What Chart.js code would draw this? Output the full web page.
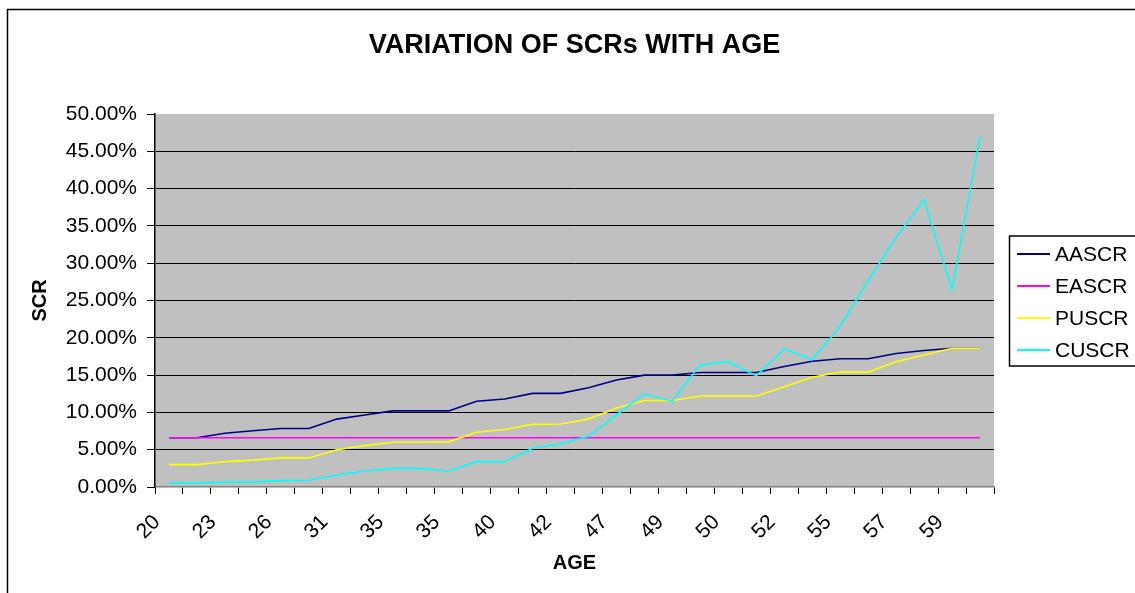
<!DOCTYPE html>
<html>
<head>
<meta charset="utf-8">
<title>VARIATION OF SCRs WITH AGE</title>
<script src="https://cdn.jsdelivr.net/npm/chart.js@4.4.1/dist/chart.umd.min.js"></script>
<style>
  html, body { margin: 0; padding: 0; background: #fff; }
  canvas { display: block; }
</style>
</head>
<body>
<canvas id="myChart" width="1135" height="593"></canvas>
<script>
// ages along the x axis (only every other one is labelled)
var ages = ['20','22','23','25','26','28','31','33','35','35','35','38','40','41','42',
            '45','47','48','49','49','50','51','52','53','55','56','57','58','59','60'];

// values in percent
var aascr = [6.6,6.6,7.2,7.55,7.85,7.85,9.1,9.65,10.2,10.2,10.2,11.5,11.8,12.55,12.55,
             13.3,14.35,15.0,15.0,15.35,15.35,15.35,16.15,16.85,17.2,17.2,17.9,18.3,18.6,18.6];
var eascr = [6.6,6.6,6.6,6.6,6.6,6.6,6.6,6.6,6.6,6.6,6.6,6.6,6.6,6.6,6.6,
             6.6,6.6,6.6,6.6,6.6,6.6,6.6,6.6,6.6,6.6,6.6,6.6,6.6,6.6,6.6];
var puscr = [3.0,3.0,3.4,3.6,3.9,3.9,5.0,5.55,6.0,6.0,6.05,7.35,7.7,8.4,8.45,
             9.1,10.6,11.6,11.6,12.2,12.2,12.2,13.45,14.7,15.4,15.4,16.8,17.7,18.6,18.6];
var cuscr = [0.55,0.55,0.65,0.65,0.85,0.9,1.6,2.15,2.5,2.5,2.15,3.4,3.4,5.2,5.8,
             6.8,9.65,12.5,11.5,16.4,16.8,14.9,18.5,17.05,21.55,27.65,33.45,38.5,26.45,47.0];

var seriesNames = ['AASCR','EASCR','PUSCR','CUSCR'];
var seriesColors = ['#000080','#FF00FF','#FFFF00','#00FFFF'];

var FONT = "Arial, 'Liberation Sans', sans-serif";

// grey plot area + outer frame of the chart
var plotBg = {
    id: 'plotBg',
    beforeDraw: function(chart) {
        var c = chart.ctx;
        var a = chart.chartArea;
        c.save();
        c.fillStyle = '#C0C0C0';
        c.fillRect(a.left, a.top, a.right - a.left, a.bottom - a.top);
        c.strokeStyle = '#000';
        c.lineWidth = 1.5;
        c.strokeRect(7.5, 9.5, chart.width + 20, chart.height + 20);
        c.restore();
    }
};

// excel style legend in a box on the right
var boxLegend = {
    id: 'boxLegend',
    afterDraw: function(chart) {
        var c = chart.ctx;
        c.save();
        c.strokeStyle = '#000';
        c.lineWidth = 1.5;
        c.strokeRect(1009.5, 236, 200, 130);
        c.font = '21px ' + FONT;
        c.textBaseline = 'middle';
        c.textAlign = 'left';
        chart.data.datasets.forEach(function(ds, i) {
            var y = 254 + i * 32;
            c.strokeStyle = ds.borderColor;
            c.lineWidth = 2;
            c.beginPath();
            c.moveTo(1017, y);
            c.lineTo(1050, y);
            c.stroke();
            c.fillStyle = '#000';
            c.fillText(ds.label, 1055, y + 1);
        });
        c.restore();
    }
};

function createChart(ctx) {
    var sets = [aascr, eascr, puscr, cuscr].map(function(d, i) {
        return {
            label: seriesNames[i],
            data: d,
            borderColor: seriesColors[i],
            backgroundColor: seriesColors[i],
            borderWidth: 1.6,
            pointRadius: 0,
            tension: 0,
            fill: false,
            order: 4 - i
        };
    });

    var myChart = new Chart(ctx, {
        type: 'line',
        data: {
            labels: ages,
            datasets: sets
        },
        options: {
            responsive: false,
            animation: false,
            layout: {
                padding: { left: 0, right: 141, top: 0, bottom: 0 }
            },
            plugins: {
                legend: { display: false },
                tooltip: { enabled: false },
                title: {
                    display: true,
                    text: 'VARIATION OF SCRs WITH AGE',
                    color: '#000',
                    fullSize: false,
                    font: { family: FONT, size: 27, weight: 'bold', lineHeight: 1.2 },
                    padding: { top: 29.6, bottom: 52 }
                }
            },
            scales: {
                x: {
                    offset: true,
                    grid: {
                        offset: true,
                        drawOnChartArea: false,
                        drawTicks: true,
                        tickLength: 7,
                        tickColor: '#000'
                    },
                    border: { color: '#808080', width: 1.5 },
                    ticks: {
                        autoSkip: false,
                        minRotation: 45,
                        maxRotation: 45,
                        padding: 16,
                        labelOffset: -12,
                        color: '#000',
                        font: { family: FONT, size: 21 },
                        callback: function(val, i) {
                            return i % 2 === 0 ? this.getLabelForValue(val) : '';
                        }
                    },
                    title: {
                        display: true,
                        text: 'AGE',
                        color: '#000',
                        font: { family: FONT, size: 20, weight: 'bold', lineHeight: 1.26 },
                        padding: { top: 0, bottom: 16.9 }
                    },
                    afterFit: function(scale) { scale.height = 106; }
                },
                y: {
                    min: 0,
                    max: 50,
                    grid: {
                        color: function(c) {
                            if (c.tick && (c.tick.value === 50 || c.tick.value === 0)) return 'rgba(0,0,0,0)';
                            return '#000';
                        },
                        tickColor: '#000',
                        tickLength: 8,
                        lineWidth: 1
                    },
                    border: { color: '#000', width: 1.5 },
                    ticks: {
                        stepSize: 5,
                        padding: 10,
                        color: '#000',
                        font: { family: FONT, size: 21 },
                        callback: function(v) { return v.toFixed(2) + '%'; }
                    },
                    title: {
                        display: true,
                        text: 'SCR',
                        color: '#000',
                        font: { family: FONT, size: 20, weight: 'bold', lineHeight: 1.26 },
                        padding: { top: 27.4, bottom: 0 }
                    },
                    afterFit: function(scale) { scale.width = 155; }
                }
            }
        },
        plugins: [plotBg, boxLegend]
    });
    return myChart;
}

window.addEventListener('load', function() {
    var ctx = document.getElementById('myChart').getContext('2d');
    createChart(ctx);
});
</script>
</body>
</html>
